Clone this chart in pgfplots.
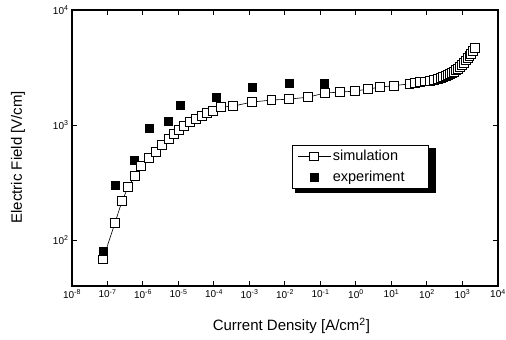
\documentclass[border=0pt]{standalone}
\usepackage{pgfplots}
\pgfplotsset{compat=1.18}
\usepackage{fontspec}
\setmainfont{Liberation Sans}
\begin{document}
\begin{tikzpicture}
\useasboundingbox (-72pt,-54pt) rectangle (434pt,286pt);
\begin{axis}[
  at={(0,0)}, anchor=south west,
  scale only axis, width=426pt, height=276pt,
  xmode=log, ymode=log, log basis x=10, log basis y=10,
  xmin=1e-8, xmax=1e4, ymin=40, ymax=1e4,
  xtick={1e-8,1e-7,1e-6,1e-5,1e-4,1e-3,1e-2,1e-1,1e0,1e1,1e2,1e3,1e4},
  xticklabels={10\textsuperscript{-8},10\textsuperscript{-7},10\textsuperscript{-6},10\textsuperscript{-5},10\textsuperscript{-4},10\textsuperscript{-3},10\textsuperscript{-2},10\textsuperscript{-1},10\textsuperscript{0},10\textsuperscript{1},10\textsuperscript{2},10\textsuperscript{3},10\textsuperscript{4}},
  ytick={1e2,1e3,1e4},
  yticklabels={10\textsuperscript{2},10\textsuperscript{3},10\textsuperscript{4}},
  xminorticks=false,
  axis line style={line width=1.3pt},
  major tick length=5pt, minor tick length=3pt,
  every tick/.style={line width=1pt, black},
  tick label style={font=\fontsize{10}{11}\selectfont},
  xlabel={Current Density [A/cm\textsuperscript{2}]},
  ylabel={Electric Field [V/cm]},
  every axis x label/.style={at={(axis description cs:0.515,-0.145)}, anchor=center, font=\fontsize{15}{17}\selectfont},
  every axis y label/.style={at={(axis description cs:-0.127,0.467)}, anchor=center, rotate=90, font=\fontsize{15}{17}\selectfont},
  legend style={at={(axis description cs:0.516,0.511)}, anchor=north west,
    draw=black, line width=0.8pt, fill=white,
    font=\fontsize{14.5}{16}\selectfont,
    inner xsep=5pt, inner ysep=3pt, row sep=5pt},
  legend cell align=left,
  reverse legend,
  legend image code/.code={\draw[mark repeat=2,mark phase=2,line width=0.6pt,#1] plot coordinates {(0cm,0cm) (0.58cm,0cm) (1.16cm,0cm)};},
]
% legend shadow
\fill[black] (axis description cs:0.523,0.500) rectangle (axis description cs:0.854,0.337);
\addplot[only marks, mark=square*, mark size=4pt, mark options={fill=black, draw=black}] coordinates {
(7.4e-8,80) (1.65e-7,300) (5.6e-7,497) (1.5e-6,942) (5.0e-6,1083) (1.1e-5,1492)
(1.15e-4,1750) (1.2e-3,2140) (1.3e-2,2320) (0.13,2320) (12,2230)
};
\addlegendentry{experiment\hspace*{17pt}}
\addplot[black, line width=0.6pt, mark=square*, mark size=4.3pt, mark options={fill=white, draw=black, line width=0.8pt}] coordinates {
(7.4e-8,68) (1.62e-7,141) (2.57e-7,219) (3.8e-7,289) (5.9e-7,360) (8.7e-7,440)
(1.48e-6,516) (2.34e-6,582) (3.47e-6,670) (5.37e-6,755) (7.4e-6,835) (1.02e-5,905)
(1.41e-5,980) (2.09e-5,1060) (3.09e-5,1127) (4.57e-5,1196) (6.3e-5,1270) (9.3e-5,1325)
(1.58e-4,1435) (3.47e-4,1462)
(1.17e-3,1585) (4.1e-3,1650) (1.29e-2,1680) (4.5e-2,1750) (0.135,1900) (0.355,1935)
(0.93,1975) (2.19,2055) (4.8,2140) (11.7,2200)
(31.6,2280) (45.7,2320) (63,2365) (87,2390) (120,2415) (158,2460) (204,2510)
(245,2560) (282,2615) (335,2665) (389,2720) (445,2770) (501,2830) (580,2910) (661,3005)
(755,3095) (851,3190) (970,3320) (1096,3460) (1250,3640) (1413,3830)
(1580,3980) (1738,4145) (1980,4400) (2240,4680)
};
\addlegendentry{simulation}
\end{axis}
\end{tikzpicture}
\end{document}
